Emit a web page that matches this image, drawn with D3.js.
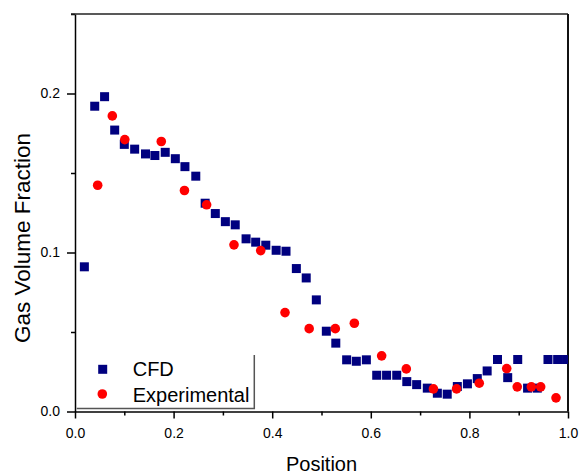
<!DOCTYPE html>
<html>
<head>
<meta charset="utf-8">
<script src="https://cdn.jsdelivr.net/npm/d3@7"></script>
<style>
  body { margin: 0; background: #fff; }
  svg { font-family: "Liberation Sans", Arial, sans-serif; }
  .axis path, .axis line { stroke: #000; }
  .axis text { fill: #000; font-size: 14px; font-family: "Liberation Sans", Arial, sans-serif; }
</style>
</head>
<body>
<div id="chart-area"></div>
<script>
// CFD series (squares)
var cfdX = [0.019, 0.040, 0.060, 0.0805, 0.100, 0.121, 0.143, 0.162, 0.183, 0.2035,
            0.223, 0.245, 0.264, 0.2846, 0.305, 0.325, 0.347, 0.3665, 0.387, 0.408,
            0.428, 0.449, 0.469, 0.4895, 0.5098, 0.529, 0.551, 0.5706, 0.591, 0.612,
            0.632, 0.6526, 0.673, 0.693, 0.7146, 0.735, 0.755, 0.7755, 0.796, 0.816,
            0.836, 0.857, 0.8777, 0.898, 0.918, 0.9377, 0.9594, 0.979, 0.997];
var cfdY = [0.091, 0.192, 0.198, 0.177, 0.168, 0.165, 0.162, 0.161, 0.163, 0.159,
            0.154, 0.148, 0.131, 0.1245, 0.1194, 0.1174, 0.1086, 0.1065, 0.1046, 0.1014,
            0.1008, 0.0899, 0.084, 0.0702, 0.0505, 0.043, 0.0325, 0.0316, 0.0325, 0.0228,
            0.0228, 0.0228, 0.0188, 0.0169, 0.0147, 0.0115, 0.0109, 0.0157, 0.0174, 0.0207,
            0.0255, 0.0327, 0.0213, 0.0327, 0.0147, 0.0147, 0.0327, 0.0327, 0.0327];

// Experimental series (circles)
var expX = [0.046, 0.0757, 0.101, 0.175, 0.222, 0.267, 0.3225, 0.3767, 0.426, 0.475,
            0.528, 0.5666, 0.622, 0.672, 0.727, 0.774, 0.820, 0.8757, 0.897, 0.9256,
            0.9446, 0.9757];
var expY = [0.1423, 0.1859, 0.171, 0.1698, 0.139, 0.130, 0.1048, 0.1012, 0.0622, 0.0521,
            0.0521, 0.0555, 0.035, 0.0268, 0.0142, 0.0142, 0.0178, 0.027, 0.0155, 0.0155,
            0.0155, 0.0086];

var xMajor = [0, 0.2, 0.4, 0.6, 0.8, 1.0];
var xMinor = [0.1, 0.3, 0.5, 0.7, 0.9];
var yMajor = [0, 0.1, 0.2];
var yMinor = [0.05, 0.15, 0.25];

var margin = { left: 75, right: 13, top: 14, bottom: 64.5 };
var width = 581 - margin.left - margin.right,
    height = 476 - margin.top - margin.bottom;

var svg = d3.select("#chart-area").append("svg")
    .attr("width", 581)
    .attr("height", 476);

var g = svg.append("g")
    .attr("transform", "translate(" + margin.left + "," + margin.top + ")");

var x = d3.scaleLinear().domain([0, 1]).range([0, width]);
var y = d3.scaleLinear().domain([0, 0.25]).range([height, 0]);

var fmt = d3.format(".1f");

// clip for markers
svg.append("defs").append("clipPath")
    .attr("id", "plot-clip")
  .append("rect")
    .attr("width", width)
    .attr("height", height);

// minor ticks
g.append("g")
    .attr("class", "axis")
    .attr("transform", "translate(0," + height + ")")
    .call(d3.axisBottom(x).tickValues(xMinor).tickSize(4).tickFormat(""))
    .call(function(s){ s.select(".domain").remove(); })
    .selectAll("line").attr("stroke-width", 1.5);

g.append("g")
    .attr("class", "axis")
    .call(d3.axisLeft(y).tickValues(yMinor).tickSize(4).tickFormat(""))
    .call(function(s){ s.select(".domain").remove(); })
    .selectAll("line").attr("stroke-width", 1.5);

// major axes
var xAxis = g.append("g")
    .attr("class", "axis")
    .attr("transform", "translate(0," + height + ")")
    .call(d3.axisBottom(x).tickValues(xMajor).tickSize(7).tickSizeOuter(0)
        .tickPadding(10).tickFormat(fmt));
xAxis.select(".domain").attr("stroke-width", 1.5);
xAxis.selectAll(".tick line").attr("stroke-width", 1.5);

var yAxis = g.append("g")
    .attr("class", "axis")
    .call(d3.axisLeft(y).tickValues(yMajor).tickSize(8).tickSizeOuter(0)
        .tickPadding(7).tickFormat(fmt));
yAxis.select(".domain").attr("stroke-width", 1.5);
yAxis.selectAll(".tick line").attr("stroke-width", 1.5);

// top and right frame
g.append("line")
    .attr("x1", -4).attr("x2", width)
    .attr("y1", 0).attr("y2", 0)
    .attr("stroke", "#222").attr("stroke-width", 1.5);
g.append("line")
    .attr("x1", width).attr("x2", width)
    .attr("y1", 0).attr("y2", height)
    .attr("stroke", "#111").attr("stroke-width", 2);

// markers
var marks = g.append("g").attr("clip-path", "url(#plot-clip)");
var sq = 9;

marks.selectAll("rect.cfd")
    .data(d3.range(cfdX.length))
    .enter().append("rect")
        .attr("class", "cfd")
        .attr("x", function(i){ return x(cfdX[i]) - sq / 2; })
        .attr("y", function(i){ return y(cfdY[i]) - sq / 2; })
        .attr("width", sq)
        .attr("height", sq)
        .attr("fill", "#00007f");

marks.selectAll("circle.exp")
    .data(d3.range(expX.length))
    .enter().append("circle")
        .attr("class", "exp")
        .attr("cx", function(i){ return x(expX[i]); })
        .attr("cy", function(i){ return y(expY[i]); })
        .attr("r", 4.8)
        .attr("fill", "#ff0000");

// legend
var legend = g.append("g");
legend.append("path")
    .attr("d", "M" + 179.3 + "," + 341 + "V" + 394.5 + "H" + 1.7)
    .attr("fill", "none")
    .attr("stroke", "#555")
    .attr("stroke-width", 1.5);
legend.append("rect")
    .attr("x", 27.7 - sq / 2).attr("y", 355.3 - sq / 2)
    .attr("width", sq).attr("height", sq)
    .attr("fill", "#00007f");
legend.append("circle")
    .attr("cx", 27.3).attr("cy", 380)
    .attr("r", 4.8)
    .attr("fill", "#ff0000");
legend.append("text")
    .attr("x", 57.7).attr("y", 362)
    .attr("font-size", "20px")
    .text("CFD");
legend.append("text")
    .attr("x", 57.7).attr("y", 387.7)
    .attr("font-size", "20px")
    .text("Experimental");

// axis labels
g.append("text")
    .attr("x", width / 2)
    .attr("y", height + 59.5)
    .attr("font-size", "20px")
    .attr("text-anchor", "middle")
    .text("Position");

g.append("text")
    .attr("transform", "rotate(-90)")
    .attr("x", -(238 - margin.top))
    .attr("y", -45.5)
    .attr("font-size", "22.5px")
    .attr("text-anchor", "middle")
    .text("Gas Volume Fraction");
</script>
</body>
</html>
